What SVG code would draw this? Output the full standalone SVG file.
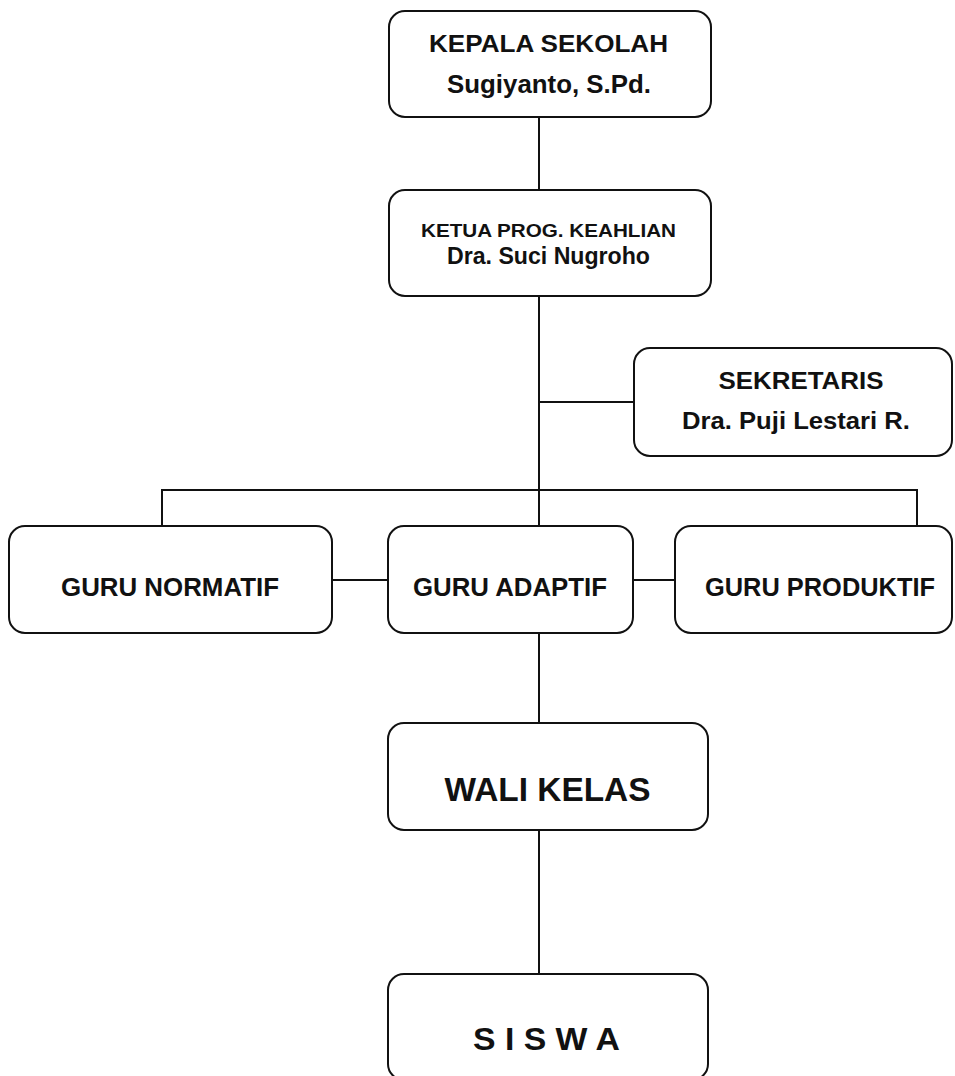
<svg xmlns="http://www.w3.org/2000/svg" width="955" height="1076" viewBox="0 0 955 1076">
<style>
.box{fill:#fff;stroke:#111;stroke-width:2}
.t{font-family:"Liberation Sans",Arial,sans-serif;font-weight:bold;fill:#111;text-anchor:middle}
.c{stroke:#111;stroke-width:2;fill:none}
</style>
<rect width="955" height="1076" fill="#fff"/>
<g id="connectors">
<line class="c" x1="539" y1="117" x2="539" y2="190"/>
<line class="c" x1="539" y1="296" x2="539" y2="526"/>
<line class="c" x1="539" y1="402" x2="634" y2="402"/>
<polyline class="c" points="162,526 162,490 917,490 917,526"/>
<line class="c" x1="332" y1="580" x2="388" y2="580"/>
<line class="c" x1="633" y1="580" x2="675" y2="580"/>
<line class="c" x1="539" y1="633" x2="539" y2="723"/>
<line class="c" x1="539" y1="830" x2="539" y2="974"/>
</g>
<g id="kepala">
<rect class="box" x="389" y="11" width="322" height="106" rx="16"/>
<text class="t" x="548.5" y="52" font-size="24" textLength="239" lengthAdjust="spacingAndGlyphs">KEPALA SEKOLAH</text>
<text class="t" x="549" y="93" font-size="25" textLength="204" lengthAdjust="spacingAndGlyphs">Sugiyanto, S.Pd.</text>
</g>
<g id="ketua">
<rect class="box" x="389" y="190" width="322" height="106" rx="16"/>
<text class="t" x="548.5" y="237" font-size="19" textLength="255" lengthAdjust="spacingAndGlyphs">KETUA PROG. KEAHLIAN</text>
<text class="t" x="548.5" y="264" font-size="23" textLength="203" lengthAdjust="spacingAndGlyphs">Dra. Suci Nugroho</text>
</g>
<g id="sekretaris">
<rect class="box" x="634" y="348" width="318" height="108" rx="16"/>
<text class="t" x="801" y="389" font-size="23" textLength="165" lengthAdjust="spacingAndGlyphs">SEKRETARIS</text>
<text class="t" x="796" y="429" font-size="24" textLength="228" lengthAdjust="spacingAndGlyphs">Dra. Puji Lestari R.</text>
</g>
<g id="normatif">
<rect class="box" x="9" y="526" width="323" height="107" rx="16"/>
<text class="t" x="170" y="596" font-size="25" textLength="218" lengthAdjust="spacingAndGlyphs">GURU NORMATIF</text>
</g>
<g id="adaptif">
<rect class="box" x="388" y="526" width="245" height="107" rx="16"/>
<text class="t" x="510" y="596" font-size="25" textLength="194" lengthAdjust="spacingAndGlyphs">GURU ADAPTIF</text>
</g>
<g id="produktif">
<rect class="box" x="675" y="526" width="277" height="107" rx="16"/>
<text class="t" x="820" y="596" font-size="25" textLength="230" lengthAdjust="spacingAndGlyphs">GURU PRODUKTIF</text>
</g>
<g id="wali">
<rect class="box" x="388" y="723" width="320" height="107" rx="16"/>
<text class="t" x="547.5" y="801" font-size="34" textLength="206" lengthAdjust="spacingAndGlyphs">WALI KELAS</text>
</g>
<g id="siswa">
<rect class="box" x="388" y="974" width="320" height="106" rx="16"/>
<text class="t" x="546.5" y="1050" font-size="32" textLength="147" lengthAdjust="spacingAndGlyphs">S I S W A</text>
</g>
</svg>
